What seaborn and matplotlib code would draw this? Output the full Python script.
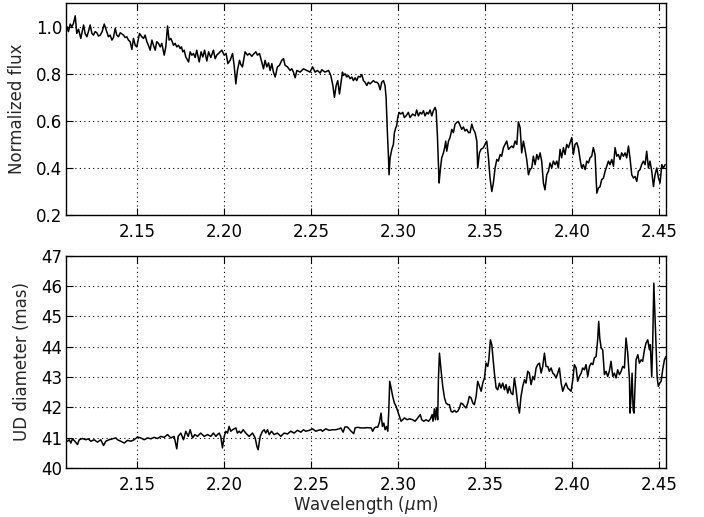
import numpy as np
import pandas as pd
import matplotlib
matplotlib.use("Agg")
import matplotlib.pyplot as plt
import seaborn as sns

# spectrum (top panel): wavelength in micron, normalized flux
flux_wave = [
    2.1094, 2.1103, 2.1113, 2.1123, 2.1132, 2.1142, 2.1151, 2.1161, 2.1174, 2.1190,
    2.1199, 2.1209, 2.1218, 2.1228, 2.1238, 2.1247, 2.1257, 2.1266, 2.1276, 2.1286,
    2.1297, 2.1309, 2.1320, 2.1333, 2.1343, 2.1353, 2.1362, 2.1372, 2.1381, 2.1391,
    2.1401, 2.1410, 2.1420, 2.1429, 2.1439, 2.1448, 2.1458, 2.1468, 2.1477, 2.1487,
    2.1496, 2.1512, 2.1525, 2.1535, 2.1544, 2.1554, 2.1563, 2.1573, 2.1583, 2.1592,
    2.1602, 2.1611, 2.1621, 2.1631, 2.1640, 2.1654, 2.1663, 2.1673, 2.1682, 2.1692,
    2.1700, 2.1707, 2.1717, 2.1726, 2.1736, 2.1746, 2.1753, 2.1761, 2.1769, 2.1778,
    2.1794, 2.1803, 2.1813, 2.1822, 2.1832, 2.1841, 2.1855, 2.1866, 2.1876, 2.1886,
    2.1899, 2.1909, 2.1922, 2.1937, 2.1947, 2.1956, 2.1966, 2.1985, 2.1999, 2.2010,
    2.2020, 2.2033, 2.2047, 2.2056, 2.2066, 2.2075, 2.2087, 2.2094, 2.2104, 2.2119,
    2.2133, 2.2144, 2.2158, 2.2171, 2.2181, 2.2190, 2.2202, 2.2215, 2.2225, 2.2234,
    2.2244, 2.2254, 2.2263, 2.2273, 2.2282, 2.2292, 2.2305, 2.2317, 2.2330, 2.2340,
    2.2349, 2.2363, 2.2378, 2.2388, 2.2397, 2.2407, 2.2417, 2.2436, 2.2455, 2.2474,
    2.2493, 2.2507, 2.2522, 2.2535, 2.2551, 2.2560, 2.2579, 2.2599, 2.2612, 2.2624,
    2.2633, 2.2643, 2.2652, 2.2662, 2.2670, 2.2679,
    2.2685, 2.2694, 2.2704, 2.2713, 2.2723, 2.2733, 2.2742, 2.2752, 2.2761, 2.2771,
    2.2781, 2.2790, 2.2800, 2.2809, 2.2819, 2.2828, 2.2838, 2.2848, 2.2857, 2.2867,
    2.2877, 2.2886, 2.2896, 2.2905, 2.2915, 2.2924, 2.2930, 2.2938, 2.2944, 2.2947,
    2.2953, 2.2963, 2.2972, 2.2978, 2.2986, 2.2991, 2.2997, 2.3005, 2.3014, 2.3026,
    2.3035, 2.3045, 2.3058, 2.3068, 2.3083, 2.3097, 2.3106, 2.3116, 2.3126, 2.3135,
    2.3145, 2.3154, 2.3164, 2.3173, 2.3183, 2.3193, 2.3202, 2.3212, 2.3218, 2.3225,
    2.3231, 2.3235, 2.3241, 2.3250, 2.3260, 2.3267, 2.3273, 2.3279, 2.3289, 2.3298,
    2.3308, 2.3317, 2.3327, 2.3336, 2.3346, 2.3356, 2.3365, 2.3375, 2.3384, 2.3394,
    2.3404, 2.3413, 2.3423, 2.3432, 2.3442, 2.3452, 2.3457, 2.3467, 2.3476, 2.3490,
    2.3499, 2.3509, 2.3519, 2.3528, 2.3538, 2.3547, 2.3557, 2.3567, 2.3576, 2.3586,
    2.3595, 2.3605, 2.3614, 2.3624, 2.3634, 2.3643, 2.3653, 2.3662, 2.3672, 2.3682,
    2.3691, 2.3701, 2.3710, 2.3720, 2.3729, 2.3739, 2.3749, 2.3758, 2.3768, 2.3777,
    2.3787, 2.3797, 2.3806, 2.3816, 2.3825, 2.3835, 2.3844, 2.3854, 2.3864, 2.3873,
    2.3883, 2.3892, 2.3902, 2.3912, 2.3921, 2.3931, 2.3940, 2.3950, 2.3959, 2.3969,
    2.3979, 2.3988, 2.3998, 2.4007, 2.4017, 2.4027, 2.4036, 2.4046, 2.4055, 2.4065,
    2.4075, 2.4084, 2.4094, 2.4103, 2.4113, 2.4122, 2.4132, 2.4142, 2.4151, 2.4161,
    2.4170, 2.4180, 2.4190, 2.4199, 2.4209, 2.4218, 2.4228, 2.4238, 2.4247, 2.4257,
    2.4266, 2.4276, 2.4285, 2.4295, 2.4305, 2.4314, 2.4324, 2.4333, 2.4343, 2.4353,
    2.4362, 2.4372, 2.4381, 2.4391, 2.4400, 2.4410, 2.4420, 2.4429, 2.4439, 2.4448,
    2.4458, 2.4468, 2.4477, 2.4487, 2.4497, 2.4506, 2.4516, 2.4525, 2.4535,
]
flux = [
    1.000, 0.979, 1.011, 1.000, 1.014, 1.046, 0.971, 0.989, 0.950, 1.007,
    0.971, 0.957, 0.979, 1.007, 0.971, 0.964, 0.979, 0.974, 0.960, 0.964,
    0.979, 1.011, 0.986, 0.957, 0.964, 0.943, 0.954, 0.993, 0.964, 0.957,
    0.974, 0.969, 0.964, 0.954, 0.957, 0.943, 0.936, 0.903, 0.950, 0.921,
    0.914, 0.971, 0.957, 0.950, 0.964, 0.936, 0.921, 0.900, 0.943, 0.921,
    0.900, 0.936, 0.929, 0.914, 0.929, 0.879, 0.914, 1.003, 0.943, 0.950,
    0.936, 0.921, 0.929, 0.914, 0.921, 0.907, 0.914, 0.893, 0.900, 0.871,
    0.850, 0.893, 0.879, 0.886, 0.869, 0.900, 0.850, 0.893, 0.871, 0.900,
    0.854, 0.893, 0.869, 0.900, 0.864, 0.879, 0.886, 0.900, 0.879, 0.886,
    0.843, 0.857, 0.886, 0.836, 0.757, 0.814, 0.857, 0.840, 0.829, 0.893,
    0.879, 0.886, 0.874, 0.886, 0.893, 0.879, 0.886, 0.850, 0.821, 0.857,
    0.829, 0.846, 0.814, 0.843, 0.807, 0.786, 0.829, 0.836, 0.857, 0.864,
    0.836, 0.829, 0.814, 0.821, 0.807, 0.783, 0.814, 0.807, 0.821, 0.814,
    0.807, 0.829, 0.807, 0.814, 0.803, 0.817, 0.807, 0.814, 0.793, 0.750,
    0.700, 0.750, 0.771, 0.714, 0.757, 0.807,
    0.793, 0.800, 0.786, 0.793, 0.779, 0.786, 0.771, 0.783, 0.771, 0.789,
    0.786, 0.797, 0.771, 0.764, 0.750, 0.764, 0.757, 0.764, 0.771, 0.764,
    0.764, 0.757, 0.732, 0.764, 0.771, 0.750, 0.700, 0.543, 0.443, 0.371,
    0.443, 0.479, 0.500, 0.550, 0.571, 0.579, 0.614, 0.636, 0.629, 0.636,
    0.614, 0.621, 0.636, 0.614, 0.629, 0.621, 0.646, 0.621, 0.636, 0.629,
    0.643, 0.621, 0.636, 0.629, 0.646, 0.621, 0.643, 0.657, 0.643, 0.543,
    0.414, 0.336, 0.386, 0.443, 0.464, 0.486, 0.514, 0.471, 0.514, 0.529,
    0.564, 0.550, 0.586, 0.593, 0.597, 0.579, 0.564, 0.574, 0.557, 0.564,
    0.550, 0.550, 0.586, 0.564, 0.550, 0.514, 0.400, 0.464, 0.479, 0.486,
    0.500, 0.514, 0.443, 0.357, 0.300, 0.336, 0.400, 0.436, 0.429, 0.457,
    0.450, 0.486, 0.500, 0.514, 0.479, 0.486, 0.493, 0.486, 0.514, 0.500,
    0.596, 0.571, 0.464, 0.514, 0.479, 0.436, 0.371, 0.393, 0.400, 0.450,
    0.414, 0.457, 0.436, 0.464, 0.429, 0.336, 0.307, 0.371, 0.386, 0.421,
    0.400, 0.429, 0.414, 0.429, 0.400, 0.479, 0.443, 0.486, 0.457, 0.500,
    0.486, 0.507, 0.529, 0.457, 0.500, 0.507, 0.486, 0.436, 0.400, 0.414,
    0.393, 0.429, 0.421, 0.443, 0.450, 0.486, 0.457, 0.293, 0.314, 0.321,
    0.350, 0.357, 0.386, 0.407, 0.429, 0.414, 0.436, 0.407, 0.486, 0.450,
    0.457, 0.436, 0.464, 0.450, 0.464, 0.443, 0.493, 0.443, 0.371, 0.357,
    0.364, 0.343, 0.386, 0.393, 0.414, 0.429, 0.414, 0.471, 0.400, 0.429,
    0.386, 0.321, 0.371, 0.400, 0.357, 0.336, 0.414, 0.400, 0.414,
]

# uniform-disk diameter (bottom panel), mas
ud_wave = [
    2.1098, 2.1107, 2.1117, 2.1126, 2.1140, 2.1155, 2.1165, 2.1184, 2.1203, 2.1217,
    2.1232, 2.1251, 2.1270, 2.1289, 2.1305, 2.1318, 2.1337, 2.1356, 2.1376, 2.1385,
    2.1404, 2.1424, 2.1443, 2.1462, 2.1481, 2.1500, 2.1519, 2.1539, 2.1558, 2.1577,
    2.1596, 2.1615, 2.1634, 2.1654, 2.1673, 2.1692, 2.1711, 2.1726, 2.1734, 2.1749,
    2.1765, 2.1778, 2.1792, 2.1803, 2.1817, 2.1830, 2.1845, 2.1864, 2.1884, 2.1903,
    2.1922, 2.1937, 2.1951, 2.1960, 2.1970, 2.1979, 2.1989, 2.1999, 2.2008, 2.2018,
    2.2027, 2.2037, 2.2047, 2.2066, 2.2075, 2.2085, 2.2095, 2.2108, 2.2123, 2.2142,
    2.2162, 2.2177, 2.2187, 2.2194, 2.2206, 2.2219, 2.2229, 2.2238, 2.2248, 2.2258,
    2.2271, 2.2286, 2.2305, 2.2325, 2.2334, 2.2344, 2.2363, 2.2382, 2.2401, 2.2420,
    2.2440, 2.2455, 2.2468, 2.2488, 2.2507, 2.2526, 2.2539, 2.2555, 2.2564, 2.2583,
    2.2603, 2.2622, 2.2641, 2.2660, 2.2670, 2.2683, 2.2693, 2.2708,
    2.2729, 2.2744, 2.2752, 2.2767, 2.2786, 2.2806, 2.2825, 2.2844, 2.2853, 2.2863,
    2.2872, 2.2882, 2.2892, 2.2901, 2.2909, 2.2917, 2.2924, 2.2932, 2.2940, 2.2945,
    2.2951, 2.2959, 2.2968, 2.2978, 2.2988, 2.2997, 2.3007, 2.3016, 2.3036, 2.3051,
    2.3064, 2.3083, 2.3097, 2.3112, 2.3127, 2.3135, 2.3147, 2.3160, 2.3174, 2.3185,
    2.3195, 2.3200, 2.3208, 2.3214, 2.3220, 2.3227, 2.3231, 2.3237, 2.3246, 2.3256,
    2.3266, 2.3275, 2.3285, 2.3294, 2.3304, 2.3313, 2.3323, 2.3333, 2.3342, 2.3352,
    2.3361, 2.3371, 2.3381, 2.3390, 2.3400, 2.3409, 2.3419, 2.3429, 2.3438, 2.3448,
    2.3457, 2.3467, 2.3477, 2.3486, 2.3496, 2.3505, 2.3515, 2.3521, 2.3530, 2.3538,
    2.3546, 2.3553, 2.3563, 2.3572, 2.3582, 2.3591, 2.3601, 2.3611, 2.3620, 2.3630,
    2.3639, 2.3649, 2.3659, 2.3668, 2.3678, 2.3687, 2.3697, 2.3706, 2.3716, 2.3726,
    2.3735, 2.3745, 2.3754, 2.3764, 2.3774, 2.3783, 2.3793, 2.3802, 2.3812, 2.3822,
    2.3831, 2.3841, 2.3850, 2.3860, 2.3869, 2.3879, 2.3889, 2.3898, 2.3908, 2.3917,
    2.3927, 2.3937, 2.3946, 2.3956, 2.3965, 2.3975, 2.3985, 2.3994, 2.4004, 2.4013,
    2.4023, 2.4032, 2.4042, 2.4052, 2.4061, 2.4071, 2.4080, 2.4090, 2.4100, 2.4109,
    2.4119, 2.4128, 2.4138, 2.4147, 2.4153, 2.4159, 2.4167, 2.4176, 2.4186, 2.4195,
    2.4205, 2.4214, 2.4224, 2.4234, 2.4243, 2.4253, 2.4262, 2.4272, 2.4282, 2.4291,
    2.4301, 2.4310, 2.4320, 2.4330, 2.4333, 2.4339, 2.4345, 2.4351, 2.4356, 2.4362,
    2.4368, 2.4378, 2.4387, 2.4397, 2.4406, 2.4416, 2.4425, 2.4435, 2.4445, 2.4450,
    2.4458, 2.4464, 2.4470, 2.4475, 2.4483, 2.4489, 2.4496, 2.4504, 2.4512, 2.4521,
    2.4531, 2.4540, 2.4546,
]
ud_diam = [
    40.88, 40.93, 40.82, 40.96, 40.88, 40.77, 40.93, 40.97, 40.93, 40.96,
    40.88, 40.93, 40.85, 40.93, 40.74, 40.88, 40.93, 40.96, 40.99, 40.93,
    40.88, 40.82, 40.91, 40.88, 40.93, 41.02, 40.99, 40.93, 40.99, 40.96,
    41.01, 40.97, 41.04, 41.01, 41.10, 40.99, 41.04, 40.63, 41.04, 41.15,
    40.93, 41.21, 41.04, 41.26, 40.99, 41.10, 41.04, 41.15, 41.04, 41.10,
    41.04, 41.15, 41.04, 41.10, 41.15, 41.04, 40.66, 41.04, 41.21, 41.15,
    41.37, 41.21, 41.26, 41.32, 41.15, 41.21, 41.15, 41.26, 41.15, 41.04,
    41.15, 40.99, 40.71, 40.60, 41.04, 41.21, 41.26, 41.15, 41.26, 41.10,
    41.21, 41.10, 41.15, 41.04, 41.10, 41.15, 41.12, 41.21, 41.15, 41.24,
    41.18, 41.26, 41.21, 41.24, 41.29, 41.21, 41.24, 41.26, 41.21, 41.29,
    41.24, 41.26, 41.26, 41.29, 41.32, 41.18, 41.35, 41.35,
    41.21, 41.13, 41.32, 41.34, 41.32, 41.32, 41.33, 41.32, 41.21, 41.32,
    41.35, 41.34, 41.51, 41.81, 41.37, 41.48, 41.26, 41.37, 41.21, 41.81,
    42.86, 42.64, 42.36, 42.14, 42.03, 41.87, 41.70, 41.54, 41.65, 41.59,
    41.62, 41.59, 41.54, 41.65, 41.76, 41.59, 41.54, 41.59, 41.54, 41.62,
    41.76, 41.54, 41.95, 41.59, 41.98, 41.59, 42.91, 43.79, 43.24, 42.69,
    42.31, 42.14, 42.09, 42.09, 41.87, 41.84, 41.90, 41.84, 41.87, 41.98,
    42.14, 42.11, 42.03, 41.98, 42.14, 42.36, 42.31, 42.14, 42.09, 42.36,
    42.86, 42.69, 42.53, 42.80, 42.97, 43.46, 43.35, 43.57, 44.23, 44.07,
    43.57, 43.13, 42.64, 42.58, 42.80, 42.64, 42.80, 42.58, 42.75, 42.47,
    42.69, 42.47, 42.42, 42.97, 42.58, 42.09, 41.81, 42.36, 42.69, 42.91,
    42.80, 43.19, 43.13, 42.75, 43.02, 42.91, 43.30, 43.41, 43.46, 43.13,
    43.35, 43.79, 43.35, 43.35, 43.19, 43.30, 43.13, 43.08, 42.97, 43.13,
    43.30, 42.80, 42.53, 42.69, 42.80, 42.64, 42.58, 42.53, 42.91, 43.41,
    43.30, 42.86, 43.02, 43.13, 43.30, 43.24, 43.41, 43.02, 43.35, 43.46,
    43.41, 43.63, 43.68, 44.23, 44.84, 44.29, 43.96, 43.90, 43.08, 43.19,
    43.02, 43.19, 43.52, 43.02, 43.13, 42.97, 43.24, 43.08, 43.19, 43.35,
    43.30, 44.29, 43.79, 42.91, 41.81, 42.36, 43.13, 41.92, 41.81, 42.69,
    43.57, 43.74, 43.46, 43.57, 43.52, 43.90, 44.12, 44.23, 43.90, 44.07,
    43.00, 44.23, 46.10, 45.33, 44.01, 43.00, 42.69, 42.80, 42.86, 43.24,
    43.57, 43.68, 43.52,
]

x_ticks = [2.15, 2.20, 2.25, 2.30, 2.35, 2.40, 2.45]
flux_ticks = [0.2, 0.4, 0.6, 0.8, 1.0]
ud_ticks = [40, 41, 42, 43, 44, 45, 46, 47]

top = pd.DataFrame({"wave": flux_wave, "flux": flux})
bot = pd.DataFrame({"wave": ud_wave, "ud": ud_diam})

sns.set_style("ticks")
plt.rcParams.update({
    "font.family": ["DejaVu Sans"],
    "font.size": 12,
    "axes.edgecolor": "black",
    "axes.linewidth": 1.0,
    "xtick.direction": "in",
    "ytick.direction": "in",
    "xtick.top": True,
    "ytick.right": True,
    "xtick.major.size": 5,
    "ytick.major.size": 5,
    "xtick.color": "black",
    "ytick.color": "black",
    "xtick.labelsize": 12,
    "ytick.labelsize": 12,
    "axes.labelsize": 12,
})

fig, (ax1, ax2) = plt.subplots(2, 1, figsize=(7.04, 5.17), dpi=100)
fig.subplots_adjust(left=0.094, right=0.946, top=0.994, bottom=0.095, hspace=0.193)

sns.lineplot(data=top, x="wave", y="flux", ax=ax1, color="black", lw=1.1,
             estimator=None, sort=False)
sns.lineplot(data=bot, x="wave", y="ud", ax=ax2, color="black", lw=1.1,
             estimator=None, sort=False)

for ax in (ax1, ax2):
    ax.set_xlim(2.109, 2.454)
    ax.set_xticks(x_ticks)
    ax.set_xticklabels([f"{t:.2f}" for t in x_ticks])
    ax.grid(True, color="black", linestyle=(0, (1, 3)), linewidth=0.8)
    ax.tick_params(axis="x", pad=6)
    ax.tick_params(axis="y", pad=3)

ax1.set_ylim(0.2, 1.1)
ax1.set_yticks(flux_ticks)
ax1.set_yticklabels([f"{t:.1f}" for t in flux_ticks])
ax1.set_xlabel("")
ax1.set_ylabel("Normalized flux", labelpad=7)

ax2.set_ylim(40, 47)
ax2.set_yticks(ud_ticks)
ax2.set_xlabel(r"Wavelength ($\mu$m)", labelpad=0)
ax2.set_ylabel("UD diameter (mas)", labelpad=7)

fig.savefig("out.png", dpi=100)
